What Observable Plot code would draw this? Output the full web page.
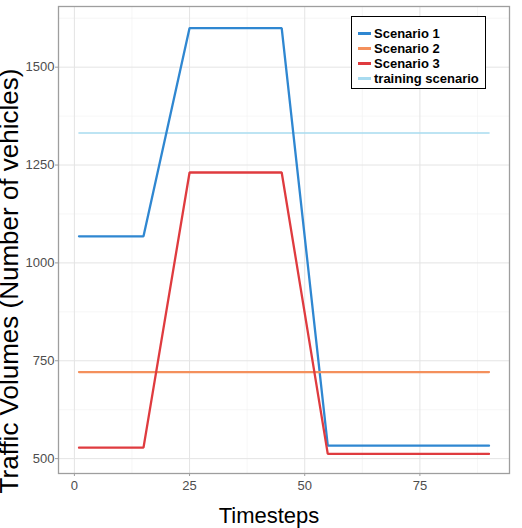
<!DOCTYPE html>
<html>
<head>
<meta charset="utf-8">
<script src="https://cdn.jsdelivr.net/npm/d3@7"></script>
<script src="https://cdn.jsdelivr.net/npm/@observablehq/plot@0.6"></script>
<style>
  html, body { margin: 0; padding: 0; background: #fff; }
  #chart { position: relative; width: 522px; height: 528px; overflow: hidden; font-family: "Liberation Sans", Arial, sans-serif; }
  #chart svg { position: absolute; left: 0; top: 0; }
  #legend {
    position: absolute; left: 351px; top: 16px; width: 133px; height: 71px;
    border: 1.5px solid #000; background: #fff; box-sizing: content-box;
    font-weight: bold; font-size: 13px; color: #000;
  }
  .row { position: absolute; left: 6px; height: 15px; line-height: 15px; white-space: nowrap; }
  .key { display: inline-block; width: 13px; height: 2.2px; vertical-align: middle; margin-right: 3px; position: relative; top: -1px; }
  .xtitle { position: absolute; left: 169px; top: 505px; width: 200px; height: 22px; line-height: 22px; font-size: 22px; text-align: center; color: #000; white-space: nowrap; }
  .ytitle { position: absolute; left: -221px; top: 268px; width: 460px; height: 26px; line-height: 26px; font-size: 26px; text-align: center; color: #000; white-space: nowrap; transform: rotate(-90deg); }
</style>
</head>
<body>
<div id="chart"></div>
<script>
// Traffic volume over time for three test scenarios and the training scenario
const timesteps = [1, 15, 25, 45, 55, 90];
const scenario1 = [1068, 1068, 1600, 1600, 533, 533];
const scenario2 = [721, 721, 721, 721, 721, 721];
const scenario3 = [528, 528, 1231, 1231, 512, 512];
const training  = [1332, 1332, 1332, 1332, 1332, 1332];

const seriesNames  = ["Scenario 1", "Scenario 2", "Scenario 3", "training scenario"];
const seriesColors = ["#2f87d1", "#f4905c", "#df3b3f", "#a8dbf0"];

const xTicks = [0, 25, 50, 75];
const xMinor = [12.5, 37.5, 62.5, 87.5];
const yTicks = [500, 750, 1000, 1250, 1500];
const yMinor = [625, 875, 1125, 1375, 1625];

const xTitle = "Timesteps";
const yTitle = "Traffic Volumes (Number of vehicles)";

const values = [scenario1, scenario2, scenario3, training];
const rows = values.flatMap((vals, s) =>
  timesteps.map((t, i) => ({series: seriesNames[s], t, v: vals[i]}))
);

const font = "'Liberation Sans', Arial, sans-serif";

const plot = Plot.plot({
  width: 522,
  height: 528,
  marginLeft: 58,
  marginRight: 13,
  marginTop: 6,
  marginBottom: 55,
  style: {fontFamily: font, background: "transparent"},
  x: {domain: [-3.45, 94.45]},
  y: {domain: [462, 1655]},
  color: {domain: seriesNames, range: seriesColors},
  marks: [
    Plot.gridX(xMinor, {stroke: "#f0f0f0", strokeOpacity: 1, strokeWidth: 0.6}),
    Plot.gridY(yMinor, {stroke: "#f0f0f0", strokeOpacity: 1, strokeWidth: 0.6}),
    Plot.gridX(xTicks, {stroke: "#e4e4e4", strokeOpacity: 1, strokeWidth: 1}),
    Plot.gridY(yTicks, {stroke: "#e4e4e4", strokeOpacity: 1, strokeWidth: 1}),
    Plot.line(rows.filter(d => d.series === "training scenario"), {
      x: "t", y: "v", stroke: "series", strokeWidth: 1.6
    }),
    Plot.line(rows.filter(d => d.series !== "training scenario"), {
      x: "t", y: "v", z: "series", stroke: "series", strokeWidth: 2.3,
      strokeLinejoin: "miter"
    }),
    Plot.frame({stroke: "#9e9e9e", strokeWidth: 1.3}),
    Plot.axisX(xTicks, {
      anchor: "bottom", tickSize: 3, tickPadding: 4, fontSize: 13,
      stroke: "#9e9e9e", fill: "#4d4d4d", label: null, tickFormat: d => String(d)
    }),
    Plot.axisY(yTicks, {
      anchor: "left", tickSize: 3, tickPadding: 1, fontSize: 13,
      stroke: "#9e9e9e", fill: "#4d4d4d", label: null, tickFormat: d => String(d)
    })
  ]
});

const chart = document.getElementById("chart");
chart.appendChild(plot);

// Axis titles
const xt = document.createElement("div");
xt.className = "xtitle";
xt.textContent = xTitle;
chart.appendChild(xt);

const yt = document.createElement("div");
yt.className = "ytitle";
yt.textContent = yTitle;
chart.appendChild(yt);

// Legend box with line keys
const legend = document.createElement("div");
legend.id = "legend";
seriesNames.forEach((name, i) => {
  const row = document.createElement("div");
  row.className = "row";
  row.style.top = (9 + i * 15) + "px";
  const key = document.createElement("span");
  key.className = "key";
  key.style.background = seriesColors[i];
  row.appendChild(key);
  row.appendChild(document.createTextNode(name));
  legend.appendChild(row);
});
chart.appendChild(legend);
</script>
</body>
</html>
